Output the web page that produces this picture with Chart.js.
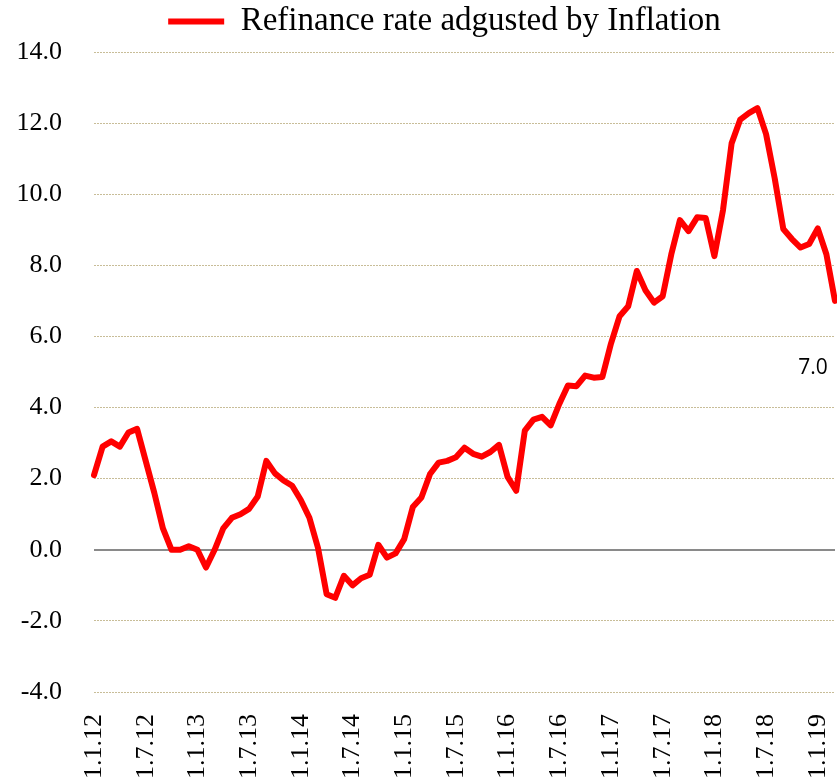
<!DOCTYPE html>
<html>
<head>
<meta charset="utf-8">
<script src="https://cdn.jsdelivr.net/npm/chart.js@4.4.1/dist/chart.umd.min.js"></script>
<style>
  html, body { margin: 0; padding: 0; background: #fff; }
  #wrap { width: 837px; height: 779px; }
</style>
</head>
<body>
<div id="wrap"><canvas id="rateChart"></canvas></div>
<script>
// monthly points, Jan 2012 .. Mar 2019
const months = [
  '1.1.12', '1.2.12', '1.3.12', '1.4.12', '1.5.12', '1.6.12', '1.7.12', '1.8.12', '1.9.12', '1.10.12', '1.11.12', '1.12.12',
  '1.1.13', '1.2.13', '1.3.13', '1.4.13', '1.5.13', '1.6.13', '1.7.13', '1.8.13', '1.9.13', '1.10.13', '1.11.13', '1.12.13',
  '1.1.14', '1.2.14', '1.3.14', '1.4.14', '1.5.14', '1.6.14', '1.7.14', '1.8.14', '1.9.14', '1.10.14', '1.11.14', '1.12.14',
  '1.1.15', '1.2.15', '1.3.15', '1.4.15', '1.5.15', '1.6.15', '1.7.15', '1.8.15', '1.9.15', '1.10.15', '1.11.15', '1.12.15',
  '1.1.16', '1.2.16', '1.3.16', '1.4.16', '1.5.16', '1.6.16', '1.7.16', '1.8.16', '1.9.16', '1.10.16', '1.11.16', '1.12.16',
  '1.1.17', '1.2.17', '1.3.17', '1.4.17', '1.5.17', '1.6.17', '1.7.17', '1.8.17', '1.9.17', '1.10.17', '1.11.17', '1.12.17',
  '1.1.18', '1.2.18', '1.3.18', '1.4.18', '1.5.18', '1.6.18', '1.7.18', '1.8.18', '1.9.18', '1.10.18', '1.11.18', '1.12.18',
  '1.1.19', '1.2.19', '1.3.19'
];

const realRate = [
  2.1, 2.9, 3.05, 2.9, 3.3, 3.4, 2.5, 1.6, 0.6, 0.0, 0.0, 0.1,
  0.0, -0.5, 0.0, 0.6, 0.9, 1.0, 1.15, 1.5, 2.5, 2.15, 1.95, 1.8,
  1.4, 0.9, 0.05, -1.25, -1.35, -0.73, -1.0, -0.8, -0.7, 0.14, -0.22, -0.1,
  0.3, 1.2, 1.47, 2.13, 2.45, 2.5, 2.6, 2.87, 2.7, 2.62, 2.75, 2.95,
  2.05, 1.66, 3.35, 3.66, 3.74, 3.5, 4.1, 4.62, 4.6, 4.9, 4.84, 4.86,
  5.8, 6.57, 6.85, 7.84, 7.3, 6.95, 7.13, 8.31, 9.27, 8.96, 9.35, 9.33,
  8.26, 9.55, 11.43, 12.1, 12.28, 12.42, 11.69, 10.45, 9.02, 8.74, 8.5, 8.6,
  9.04, 8.31, 7.0
];

const yTicks = [-4, -2, 0, 2, 4, 6, 8, 10, 12, 14];
const seriesName = 'Refinance rate adgusted by Inflation';

// legend sits a bit right of the canvas centre in the original
const legendShift = {
  id: 'legendShift',
  afterLayout(chart) {
    const lg = chart.legend;
    lg.left += 27;
    lg.right += 27;
    lg.top -= 4;
    lg.bottom -= 4;
  }
};

// value label for the last point
const lastLabel = {
  id: 'lastLabel',
  afterDatasetsDraw(chart) {
    const last = realRate.length - 1;
    const pt = chart.getDatasetMeta(0).data[last];
    const ctx = chart.ctx;
    ctx.save();
    ctx.font = '21px "Open Sans", sans-serif';
    ctx.fillStyle = '#000';
    ctx.textAlign = 'center';
    ctx.textBaseline = 'middle';
    ctx.fillText(realRate[last].toFixed(1), pt.x - 22, pt.y + 67);
    ctx.restore();
  }
};

new Chart(document.getElementById('rateChart'), {
  type: 'line',
  data: {
    labels: months,
    datasets: [{
      label: seriesName,
      data: realRate,
      borderColor: '#ff0000',
      backgroundColor: '#ff0000',
      borderWidth: 6,
      borderJoinStyle: 'round',
      borderCapStyle: 'round',
      pointRadius: 0,
      tension: 0,
    }],
  },
  options: {
    animation: false,
    responsive: true,
    maintainAspectRatio: false,
    layout: { padding: { left: 0, right: 2, top: 0, bottom: 0 } },
    plugins: {
      legend: {
        position: 'top',
        labels: {
          usePointStyle: true,
          pointStyle: 'line',
          pointStyleWidth: 56,
          padding: 9,
          color: '#000',
          font: { family: '"Liberation Serif", serif', size: 33 },
        },
      },
      tooltip: { enabled: false },
    },
    scales: {
      x: {
        grid: { display: false },
        border: { display: false },
        ticks: {
          autoSkip: false,
          minRotation: 90,
          maxRotation: 90,
          padding: 14,
          color: '#000',
          font: { family: '"Liberation Serif", serif', size: 26 },
          callback: (v, i) => (i % 6 === 0 ? months[i] : null),
        },
        afterFit(s) {
          s.height = 87;
          s.paddingLeft = 0;
          s.paddingRight = 0;
        },
      },
      y: {
        min: yTicks[0],
        max: yTicks[yTicks.length - 1],
        ticks: {
          stepSize: 2,
          padding: 32,
          color: '#000',
          font: { family: '"Liberation Serif", serif', size: 26 },
          callback: (v) => v.toFixed(1),
        },
        grid: {
          drawTicks: false,
          color: (c) => (c.tick && c.tick.value === 0 ? '#8a8a8a' : '#c8bd98'),
          lineWidth: (c) => (c.tick && c.tick.value === 0 ? 2 : 1),
        },
        border: {
          display: false,
          dash: (c) => (c.tick && c.tick.value === 0 ? [] : [2, 1]),
        },
        afterFit(s) {
          s.width = 94;
        },
      },
    },
  },
  plugins: [legendShift, lastLabel],
});
</script>
</body>
</html>
